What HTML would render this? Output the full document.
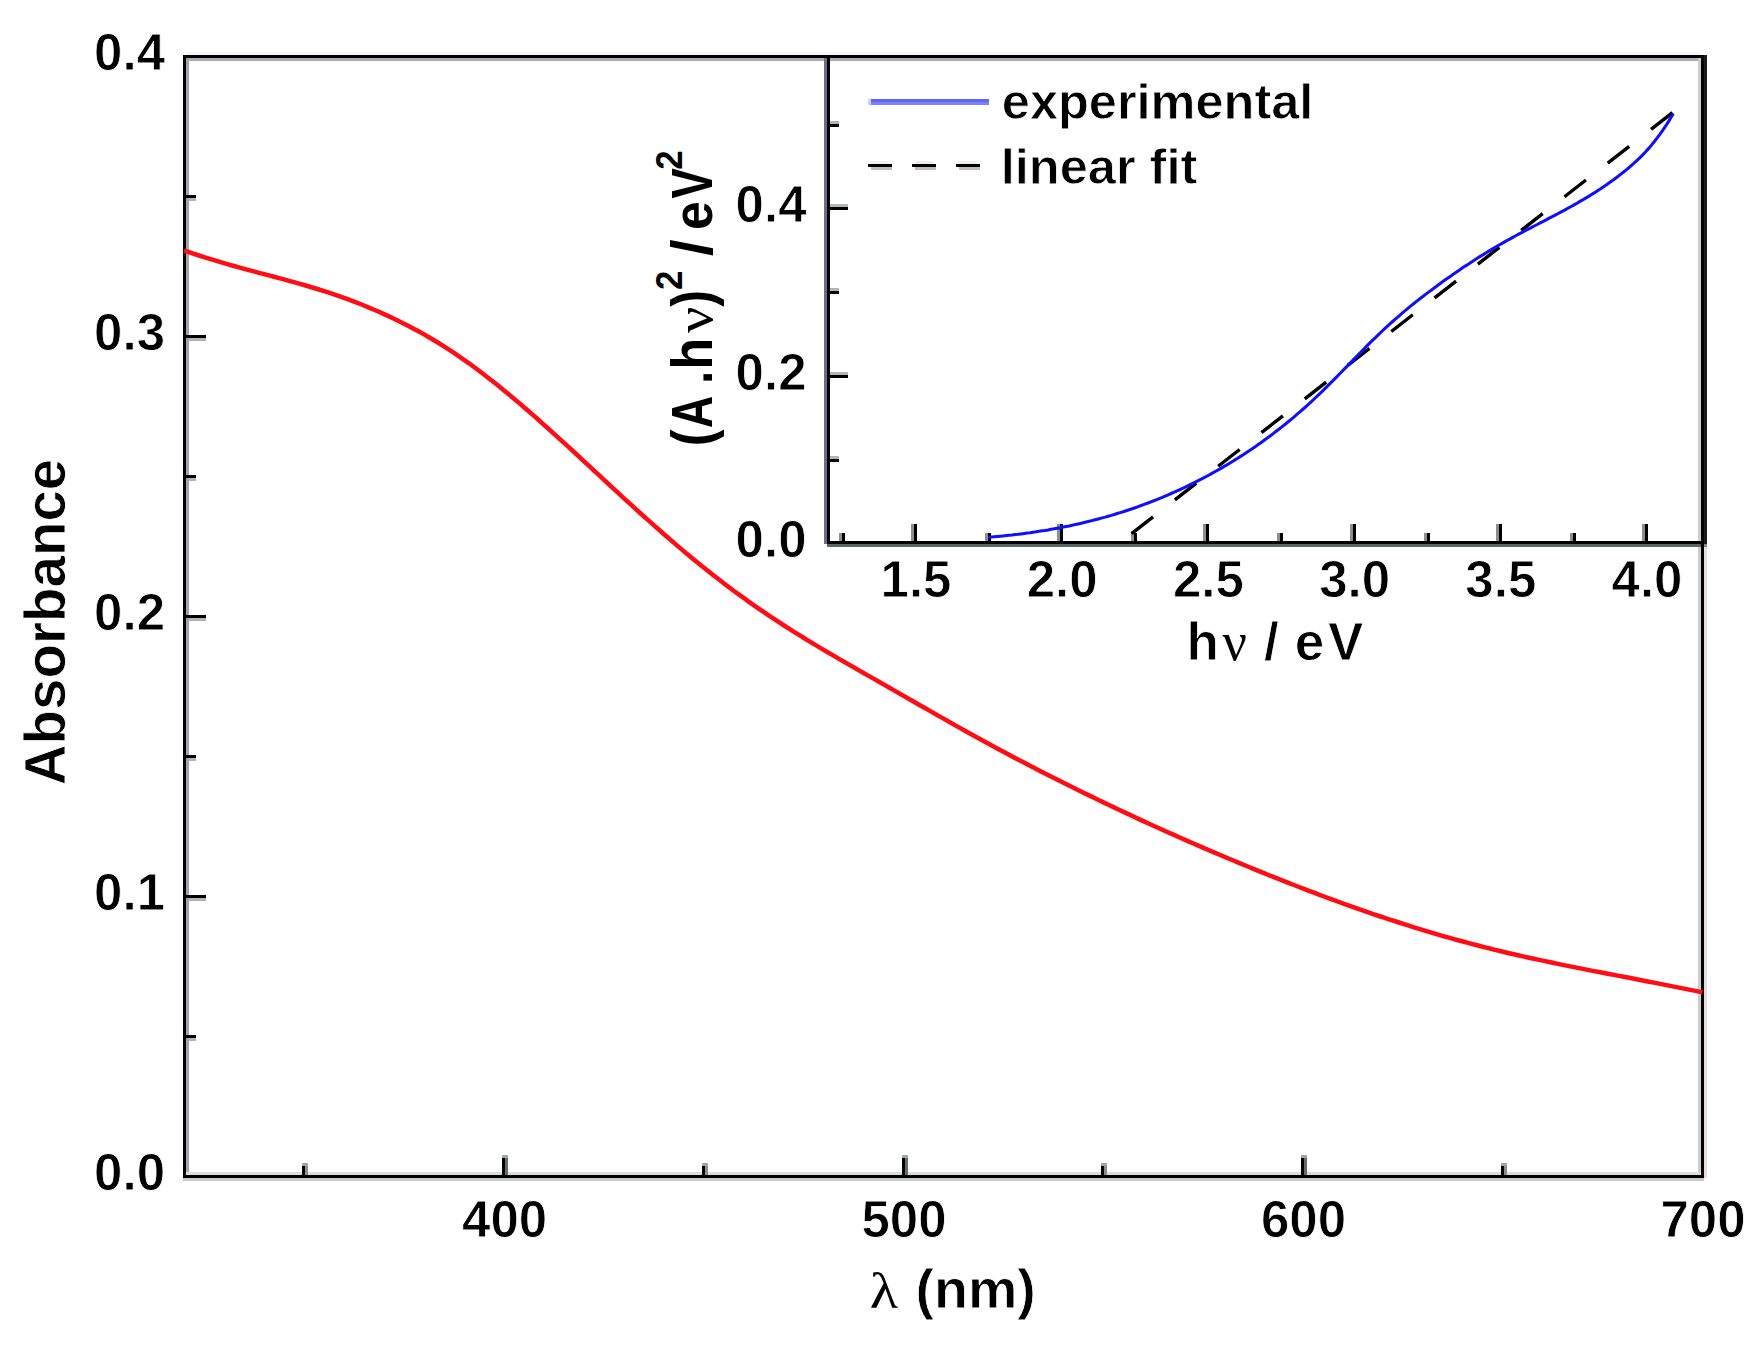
<!DOCTYPE html>
<html lang="en"><head><meta charset="utf-8"><title>Absorbance spectrum</title>
<style>html,body{margin:0;padding:0;background:#fff}body{width:1757px;height:1345px;overflow:hidden}svg{display:block}text{font-family:"Liberation Sans",sans-serif;font-weight:bold;fill:#000;stroke:#fff;stroke-width:0.8px}g[style] text{stroke:none}.sym{font-family:"Liberation Serif",serif;font-weight:normal;stroke:none}</style></head><body>
<svg width="1757" height="1345" viewBox="0 0 1757 1345">
<rect width="1757" height="1345" fill="#fff"/>
<g shape-rendering="crispEdges">
<rect x="186" y="58" width="1515" height="3" fill="#aaaab8"/>
<rect x="186" y="58" width="3" height="1117" fill="#a8a0ac"/>
<rect x="1698" y="58" width="3" height="1117" fill="#cccccc"/>
<rect x="186" y="1172" width="1515" height="3" fill="#dcdcdc"/>
<rect x="183" y="1178" width="1521" height="3" fill="#c8c8c8"/>
<rect x="1704" y="544" width="3" height="634" fill="#e6dcdc"/>
<rect x="183" y="55" width="1524" height="3" fill="#000"/>
<rect x="183" y="55" width="3" height="1123" fill="#000"/>
<rect x="183" y="1175" width="1521" height="3" fill="#000"/>
<rect x="1701" y="55" width="3" height="1123" fill="#000"/>
<rect x="186" y="55" width="20" height="3" fill="#000"/>
<rect x="186" y="335" width="20" height="3" fill="#000"/>
<rect x="189" y="338" width="17" height="3" fill="#b4b4b4"/>
<rect x="186" y="615" width="20" height="3" fill="#000"/>
<rect x="189" y="618" width="17" height="3" fill="#b4b4b4"/>
<rect x="186" y="895" width="20" height="3" fill="#000"/>
<rect x="189" y="898" width="17" height="3" fill="#b4b4b4"/>
<rect x="186" y="1175" width="20" height="3" fill="#000"/>
<rect x="186" y="195" width="10" height="3" fill="#000"/>
<rect x="189" y="198" width="7" height="3" fill="#b4b4b4"/>
<rect x="186" y="475" width="10" height="3" fill="#000"/>
<rect x="189" y="478" width="7" height="3" fill="#b4b4b4"/>
<rect x="186" y="755" width="10" height="3" fill="#000"/>
<rect x="189" y="758" width="7" height="3" fill="#b4b4b4"/>
<rect x="186" y="1035" width="10" height="3" fill="#000"/>
<rect x="189" y="1038" width="7" height="3" fill="#b4b4b4"/>
<rect x="502" y="1158" width="3" height="17" fill="#000"/>
<rect x="505" y="1158" width="3" height="17" fill="#5f6e6e"/>
<rect x="502" y="1155" width="6" height="3" fill="#a4a4a4"/>
<rect x="902" y="1158" width="3" height="17" fill="#000"/>
<rect x="905" y="1158" width="3" height="17" fill="#5f6e6e"/>
<rect x="902" y="1155" width="6" height="3" fill="#a4a4a4"/>
<rect x="1301" y="1158" width="3" height="17" fill="#000"/>
<rect x="1304" y="1158" width="3" height="17" fill="#5f6e6e"/>
<rect x="1301" y="1155" width="6" height="3" fill="#a4a4a4"/>
<rect x="302" y="1166" width="3" height="9" fill="#000"/>
<rect x="305" y="1166" width="3" height="9" fill="#8f8a94"/>
<rect x="302" y="1163" width="6" height="3" fill="#a4a4a4"/>
<rect x="702" y="1166" width="3" height="9" fill="#000"/>
<rect x="705" y="1166" width="3" height="9" fill="#8f8a94"/>
<rect x="702" y="1163" width="6" height="3" fill="#a4a4a4"/>
<rect x="1101" y="1166" width="3" height="9" fill="#000"/>
<rect x="1104" y="1166" width="3" height="9" fill="#8f8a94"/>
<rect x="1101" y="1163" width="6" height="3" fill="#a4a4a4"/>
<rect x="1501" y="1166" width="3" height="9" fill="#000"/>
<rect x="1504" y="1166" width="3" height="9" fill="#8f8a94"/>
<rect x="1501" y="1163" width="6" height="3" fill="#a4a4a4"/>
<rect x="186" y="52" width="1515" height="3" fill="#fbf2fb"/>
</g>
<polyline points="184.0,250.4 189.0,252.1 194.0,253.8 199.0,255.5 204.0,257.1 209.0,258.7 214.0,260.2 219.0,261.7 224.0,263.2 229.0,264.6 234.0,266.0 239.0,267.4 244.0,268.8 249.0,270.1 254.0,271.4 259.0,272.8 264.0,274.1 269.0,275.4 274.0,276.7 279.0,278.1 284.0,279.4 289.0,280.8 294.0,282.2 299.0,283.6 304.0,285.0 309.0,286.5 314.0,288.0 319.0,289.5 324.0,291.1 329.0,292.7 334.0,294.4 339.0,296.1 344.0,297.9 349.0,299.7 354.0,301.6 359.0,303.5 364.0,305.5 369.0,307.6 374.0,309.7 379.0,311.8 384.0,314.1 389.0,316.4 394.0,318.7 399.0,321.2 404.0,323.7 409.0,326.2 414.0,328.9 419.0,331.6 424.0,334.4 429.0,337.3 434.0,340.3 439.0,343.3 444.0,346.4 449.0,349.6 454.0,352.9 459.0,356.3 464.0,359.8 469.0,363.3 474.0,367.0 479.0,370.7 484.0,374.5 489.0,378.4 494.0,382.3 499.0,386.3 504.0,390.4 509.0,394.5 514.0,398.7 519.0,402.9 524.0,407.2 529.0,411.5 534.0,415.9 539.0,420.3 544.0,424.8 549.0,429.2 554.0,433.8 559.0,438.3 564.0,442.9 569.0,447.4 574.0,452.0 579.0,456.7 584.0,461.3 589.0,465.9 594.0,470.6 599.0,475.2 604.0,479.8 609.0,484.5 614.0,489.1 619.0,493.7 624.0,498.3 629.0,502.9 634.0,507.4 639.0,512.0 644.0,516.5 649.0,520.9 654.0,525.4 659.0,529.8 664.0,534.2 669.0,538.5 674.0,542.9 679.0,547.1 684.0,551.4 689.0,555.5 694.0,559.7 699.0,563.8 704.0,567.8 709.0,571.8 714.0,575.7 719.0,579.6 724.0,583.5 729.0,587.2 734.0,591.0 739.0,594.6 744.0,598.2 749.0,601.8 754.0,605.3 759.0,608.8 764.0,612.2 769.0,615.6 774.0,618.9 779.0,622.2 784.0,625.5 789.0,628.7 794.0,631.8 799.0,634.9 804.0,638.0 809.0,641.1 814.0,644.1 819.0,647.1 824.0,650.1 829.0,653.0 834.0,655.9 839.0,658.9 844.0,661.7 849.0,664.6 854.0,667.5 859.0,670.4 864.0,673.2 869.0,676.1 874.0,678.9 879.0,681.8 884.0,684.6 889.0,687.5 894.0,690.4 899.0,693.2 904.0,696.1 909.0,699.0 914.0,701.8 919.0,704.7 924.0,707.5 929.0,710.4 934.0,713.2 939.0,716.1 944.0,718.9 949.0,721.7 954.0,724.6 959.0,727.4 964.0,730.2 969.0,732.9 974.0,735.7 979.0,738.5 984.0,741.2 989.0,744.0 994.0,746.7 999.0,749.4 1004.0,752.0 1009.0,754.7 1014.0,757.4 1019.0,760.0 1024.0,762.6 1029.0,765.2 1034.0,767.8 1039.0,770.4 1044.0,773.0 1049.0,775.5 1054.0,778.0 1059.0,780.6 1064.0,783.1 1069.0,785.6 1074.0,788.0 1079.0,790.5 1084.0,793.0 1089.0,795.4 1094.0,797.8 1099.0,800.2 1104.0,802.6 1109.0,805.0 1114.0,807.4 1119.0,809.8 1124.0,812.1 1129.0,814.4 1134.0,816.8 1139.0,819.1 1144.0,821.4 1149.0,823.7 1154.0,826.0 1159.0,828.2 1164.0,830.5 1169.0,832.7 1174.0,834.9 1179.0,837.2 1184.0,839.4 1189.0,841.6 1194.0,843.7 1199.0,845.9 1204.0,848.1 1209.0,850.2 1214.0,852.4 1219.0,854.5 1224.0,856.6 1229.0,858.7 1234.0,860.8 1239.0,862.9 1244.0,865.0 1249.0,867.0 1254.0,869.1 1259.0,871.1 1264.0,873.1 1269.0,875.2 1274.0,877.2 1279.0,879.1 1284.0,881.1 1289.0,883.1 1294.0,885.0 1299.0,887.0 1304.0,888.9 1309.0,890.8 1314.0,892.7 1319.0,894.6 1324.0,896.5 1329.0,898.3 1334.0,900.1 1339.0,902.0 1344.0,903.8 1349.0,905.6 1354.0,907.3 1359.0,909.1 1364.0,910.8 1369.0,912.6 1374.0,914.3 1379.0,916.0 1384.0,917.6 1389.0,919.3 1394.0,920.9 1399.0,922.5 1404.0,924.1 1409.0,925.7 1414.0,927.3 1419.0,928.8 1424.0,930.4 1429.0,931.9 1434.0,933.4 1439.0,934.8 1444.0,936.3 1449.0,937.7 1454.0,939.1 1459.0,940.5 1464.0,941.8 1469.0,943.2 1474.0,944.5 1479.0,945.8 1484.0,947.1 1489.0,948.3 1494.0,949.6 1499.0,950.8 1504.0,952.0 1509.0,953.2 1514.0,954.3 1519.0,955.5 1524.0,956.6 1529.0,957.7 1534.0,958.8 1539.0,959.9 1544.0,960.9 1549.0,962.0 1554.0,963.0 1559.0,964.1 1564.0,965.1 1569.0,966.1 1574.0,967.1 1579.0,968.1 1584.0,969.1 1589.0,970.1 1594.0,971.1 1599.0,972.0 1604.0,973.0 1609.0,974.0 1614.0,974.9 1619.0,975.9 1624.0,976.8 1629.0,977.8 1634.0,978.8 1639.0,979.7 1644.0,980.7 1649.0,981.7 1654.0,982.6 1659.0,983.6 1664.0,984.6 1669.0,985.6 1674.0,986.6 1679.0,987.6 1684.0,988.6 1689.0,989.6 1694.0,990.6 1699.0,991.6 1702.5,992.4" fill="none" stroke="#ff0d14" stroke-width="4.5" stroke-linejoin="round"/>
<g shape-rendering="crispEdges">
<rect x="824" y="58" width="3" height="486" fill="#6e6e82"/>
<rect x="827" y="58" width="3" height="486" fill="#000"/>
<rect x="827" y="544" width="874" height="3" fill="#566868"/>
<rect x="827" y="541" width="877" height="3" fill="#000"/>
<rect x="1704" y="55" width="3" height="489" fill="#1e1e14"/>
<rect x="1704" y="544" width="3" height="3" fill="#8a8490"/>
<rect x="830" y="375" width="18" height="3" fill="#000"/>
<rect x="830" y="372" width="18" height="3" fill="#b0b8b8"/>
<rect x="830" y="207" width="18" height="3" fill="#000"/>
<rect x="830" y="204" width="18" height="3" fill="#b0b8b8"/>
<rect x="830" y="459" width="9" height="3" fill="#000"/>
<rect x="830" y="456" width="9" height="3" fill="#b0b8b8"/>
<rect x="830" y="291" width="9" height="3" fill="#000"/>
<rect x="830" y="288" width="9" height="3" fill="#b0b8b8"/>
<rect x="830" y="124" width="9" height="3" fill="#000"/>
<rect x="830" y="121" width="9" height="3" fill="#b0b8b8"/>
<rect x="914" y="524" width="3" height="17" fill="#000"/>
<rect x="911" y="524" width="3" height="17" fill="#8e8e8e"/>
<rect x="1060" y="524" width="3" height="17" fill="#000"/>
<rect x="1057" y="524" width="3" height="17" fill="#8e8e8e"/>
<rect x="1206" y="524" width="3" height="17" fill="#000"/>
<rect x="1203" y="524" width="3" height="17" fill="#8e8e8e"/>
<rect x="1353" y="524" width="3" height="17" fill="#000"/>
<rect x="1350" y="524" width="3" height="17" fill="#8e8e8e"/>
<rect x="1499" y="524" width="3" height="17" fill="#000"/>
<rect x="1496" y="524" width="3" height="17" fill="#8e8e8e"/>
<rect x="1645" y="524" width="3" height="17" fill="#000"/>
<rect x="1642" y="524" width="3" height="17" fill="#8e8e8e"/>
<rect x="842" y="533" width="3" height="8" fill="#000"/>
<rect x="839" y="533" width="3" height="8" fill="#8e8e8e"/>
<rect x="988" y="533" width="3" height="8" fill="#000"/>
<rect x="985" y="533" width="3" height="8" fill="#8e8e8e"/>
<rect x="1134" y="533" width="3" height="8" fill="#000"/>
<rect x="1131" y="533" width="3" height="8" fill="#8e8e8e"/>
<rect x="1280" y="533" width="3" height="8" fill="#000"/>
<rect x="1277" y="533" width="3" height="8" fill="#8e8e8e"/>
<rect x="1427" y="533" width="3" height="8" fill="#000"/>
<rect x="1424" y="533" width="3" height="8" fill="#8e8e8e"/>
<rect x="1573" y="533" width="3" height="8" fill="#000"/>
<rect x="1570" y="533" width="3" height="8" fill="#8e8e8e"/>
</g>
<line x1="1131.6" y1="533.6" x2="1675.4" y2="110.4" stroke="#000" stroke-width="3.4" stroke-dasharray="27.2 27.65"/>
<polyline points="988.2,537.3 991.2,537.1 994.2,536.8 997.2,536.5 1000.2,536.2 1003.2,535.9 1006.2,535.6 1009.2,535.3 1012.2,535.0 1015.2,534.6 1018.2,534.3 1021.2,533.9 1024.2,533.5 1027.2,533.1 1030.2,532.7 1033.2,532.2 1036.2,531.8 1039.2,531.3 1042.2,530.8 1045.2,530.4 1048.2,529.9 1051.2,529.3 1054.2,528.8 1057.2,528.2 1060.2,527.7 1063.2,527.1 1066.2,526.5 1069.2,525.9 1072.2,525.2 1075.2,524.6 1078.2,523.9 1081.2,523.2 1084.2,522.5 1087.2,521.8 1090.2,521.1 1093.2,520.3 1096.2,519.5 1099.2,518.7 1102.2,517.9 1105.2,517.1 1108.2,516.2 1111.2,515.4 1114.2,514.5 1117.2,513.5 1120.2,512.6 1123.2,511.7 1126.2,510.7 1129.2,509.7 1132.2,508.7 1135.2,507.7 1138.2,506.6 1141.2,505.5 1144.2,504.4 1147.2,503.3 1150.2,502.2 1153.2,501.0 1156.2,499.8 1159.2,498.6 1162.2,497.4 1165.2,496.1 1168.2,494.8 1171.2,493.5 1174.2,492.2 1177.2,490.8 1180.2,489.5 1183.2,488.1 1186.2,486.7 1189.2,485.2 1192.2,483.7 1195.2,482.2 1198.2,480.7 1201.2,479.2 1204.2,477.6 1207.2,476.0 1210.2,474.4 1213.2,472.7 1216.2,471.0 1219.2,469.3 1222.2,467.6 1225.2,465.8 1228.2,464.1 1231.2,462.2 1234.2,460.4 1237.2,458.5 1240.2,456.6 1243.2,454.7 1246.2,452.7 1249.2,450.7 1252.2,448.7 1255.2,446.7 1258.2,444.6 1261.2,442.5 1264.2,440.3 1267.2,438.1 1270.2,435.9 1273.2,433.6 1276.2,431.3 1279.2,429.0 1282.2,426.6 1285.2,424.2 1288.2,421.8 1291.2,419.3 1294.2,416.8 1297.2,414.2 1300.2,411.6 1303.2,409.0 1306.2,406.3 1309.2,403.6 1312.2,400.8 1315.2,398.0 1318.2,395.2 1321.2,392.3 1324.2,389.4 1327.2,386.4 1330.2,383.4 1333.2,380.4 1336.2,377.4 1339.2,374.3 1342.2,371.2 1345.2,368.1 1348.2,365.1 1351.2,362.0 1354.2,358.9 1357.2,355.8 1360.2,352.8 1363.2,349.7 1366.2,346.7 1369.2,343.7 1372.2,340.7 1375.2,337.8 1378.2,334.9 1381.2,332.0 1384.2,329.2 1387.2,326.4 1390.2,323.7 1393.2,321.0 1396.2,318.4 1399.2,315.8 1402.2,313.2 1405.2,310.7 1408.2,308.2 1411.2,305.7 1414.2,303.3 1417.2,300.9 1420.2,298.5 1423.2,296.2 1426.2,293.9 1429.2,291.6 1432.2,289.4 1435.2,287.2 1438.2,285.0 1441.2,282.8 1444.2,280.6 1447.2,278.5 1450.2,276.4 1453.2,274.3 1456.2,272.2 1459.2,270.2 1462.2,268.1 1465.2,266.1 1468.2,264.2 1471.2,262.2 1474.2,260.3 1477.2,258.3 1480.2,256.4 1483.2,254.6 1486.2,252.7 1489.2,250.9 1492.2,249.1 1495.2,247.3 1498.2,245.5 1501.2,243.8 1504.2,242.1 1507.2,240.4 1510.2,238.8 1513.2,237.1 1516.2,235.5 1519.2,233.9 1522.2,232.3 1525.2,230.7 1528.2,229.1 1531.2,227.6 1534.2,226.0 1537.2,224.5 1540.2,222.9 1543.2,221.4 1546.2,219.8 1549.2,218.2 1552.2,216.7 1555.2,215.1 1558.2,213.5 1561.2,211.9 1564.2,210.3 1567.2,208.7 1570.2,207.0 1573.2,205.4 1576.2,203.7 1579.2,201.9 1582.2,200.2 1585.2,198.4 1588.2,196.6 1591.2,194.7 1594.2,192.9 1597.2,190.9 1600.2,189.0 1603.2,187.0 1606.2,184.9 1609.2,182.8 1612.2,180.7 1615.2,178.5 1618.2,176.2 1621.2,173.9 1624.2,171.5 1627.2,169.1 1630.2,166.5 1633.2,163.9 1636.2,161.2 1639.2,158.3 1642.2,155.3 1645.2,152.2 1648.2,148.9 1651.2,145.4 1654.2,141.7 1657.2,137.9 1660.2,133.9 1663.2,129.6 1666.2,125.2 1669.2,120.4 1672.2,115.5 1673.3,113.6" fill="none" stroke="#0f0fff" stroke-width="3.05" stroke-linejoin="round"/>
<g shape-rendering="crispEdges">
<rect x="868" y="99" width="3" height="6" fill="#c8d2fa"/>
<rect x="871" y="99" width="118" height="3" fill="#5c67fa"/>
<rect x="871" y="102" width="118" height="3" fill="#8080fa"/>
<rect x="868" y="164" width="24" height="3" fill="#000"/>
<rect x="871" y="167" width="21" height="3" fill="#bcbcbc"/>
<rect x="871" y="161" width="18" height="3" fill="#f3eaee"/>
<rect x="912" y="164" width="24" height="3" fill="#000"/>
<rect x="915" y="167" width="21" height="3" fill="#bcbcbc"/>
<rect x="915" y="161" width="18" height="3" fill="#f3eaee"/>
<rect x="956" y="164" width="24" height="3" fill="#000"/>
<rect x="959" y="167" width="21" height="3" fill="#bcbcbc"/>
<rect x="959" y="161" width="18" height="3" fill="#f3eaee"/>
</g>
<text x="1001.8" y="118.7" font-size="50.5" text-anchor="start">experimental</text>
<text x="1000.8" y="184.3" font-size="50.5" text-anchor="start">linear fit</text>
<text x="165" y="69.8" font-size="51" text-anchor="end">0.4</text>
<text x="165" y="349.8" font-size="51" text-anchor="end">0.3</text>
<text x="165" y="629.8" font-size="51" text-anchor="end">0.2</text>
<text x="165" y="909.8" font-size="51" text-anchor="end">0.1</text>
<text x="165" y="1189.8" font-size="51" text-anchor="end">0.0</text>
<text x="504.576" y="1236.5" font-size="51" text-anchor="middle">400</text>
<text x="904.046" y="1236.5" font-size="51" text-anchor="middle">500</text>
<text x="1303.52" y="1236.5" font-size="51" text-anchor="middle">600</text>
<text x="1702.99" y="1236.5" font-size="51" text-anchor="middle">700</text>
<text x="806.5" y="557" font-size="51" text-anchor="end">0.0</text>
<text x="806.5" y="389.5" font-size="51" text-anchor="end">0.2</text>
<text x="806.5" y="222" font-size="51" text-anchor="end">0.4</text>
<text x="916" y="597" font-size="51" text-anchor="middle">1.5</text>
<text x="1062.2" y="597" font-size="51" text-anchor="middle">2.0</text>
<text x="1208.4" y="597" font-size="51" text-anchor="middle">2.5</text>
<text x="1354.6" y="597" font-size="51" text-anchor="middle">3.0</text>
<text x="1500.8" y="597" font-size="51" text-anchor="middle">3.5</text>
<text x="1647" y="597" font-size="51" text-anchor="middle">4.0</text>
<text transform="translate(64.5,622) rotate(-90)" font-size="56.5" text-anchor="middle">Absorbance</text>
<g transform="translate(869.7,1308) scale(1.16,1)"><text class="sym" x="0" y="0" font-size="50.5">λ</text></g>
<text x="915.6" y="1308" font-size="55.5" text-anchor="start">(nm)</text>
<text x="1186.4" y="659.5" font-size="53" text-anchor="start">h</text>
<text class="sym" x="1222.5" y="659.5" font-size="54">ν</text>
<text x="1263.9" y="659.5" font-size="53" text-anchor="start">/</text>
<text x="1294.7" y="659.5" font-size="53" text-anchor="start">e</text>
<text x="1328" y="659.5" font-size="53" text-anchor="start">V</text>
<g transform="translate(711.6,443.6) rotate(-90)" style="stroke:none">
<g transform="translate(0.00,0.00) scale(0.890,1)"><text x="-2.85" y="0" font-size="57">(</text></g>
<g transform="translate(16.70,0.00) scale(0.766,1)"><text x="-1.45" y="0" font-size="58">A</text></g>
<g transform="translate(63.10,0.00) scale(0.809,1)"><text x="-3.88" y="0" font-size="57">.</text></g>
<g transform="translate(77.40,0.00) scale(0.916,1)"><text x="-3.99" y="0" font-size="57">h</text></g>
<g transform="translate(110.70,0.00) scale(1.126,1)"><text class="sym" x="-0.10" y="0" font-size="52">ν</text></g>
<g transform="translate(136.90,0.00) scale(0.890,1)"><text x="-0.06" y="0" font-size="57">)</text></g>
<g transform="translate(154.80,-29.70) scale(0.926,1)"><text x="-1.31" y="0" font-size="37.5">2</text></g>
<g transform="translate(188.10,0.00) scale(1.054,1)"><text x="-0.57" y="0" font-size="57">/</text></g>
<g transform="translate(215.50,0.00) scale(0.941,1)"><text x="-2.15" y="0" font-size="55">e</text></g>
<g transform="translate(245.30,0.00) scale(0.784,1)"><text x="-0.41" y="0" font-size="58">V</text></g>
<g transform="translate(275.00,-29.70) scale(0.926,1)"><text x="-1.31" y="0" font-size="37.5">2</text></g>
</g>
</svg></body></html>
